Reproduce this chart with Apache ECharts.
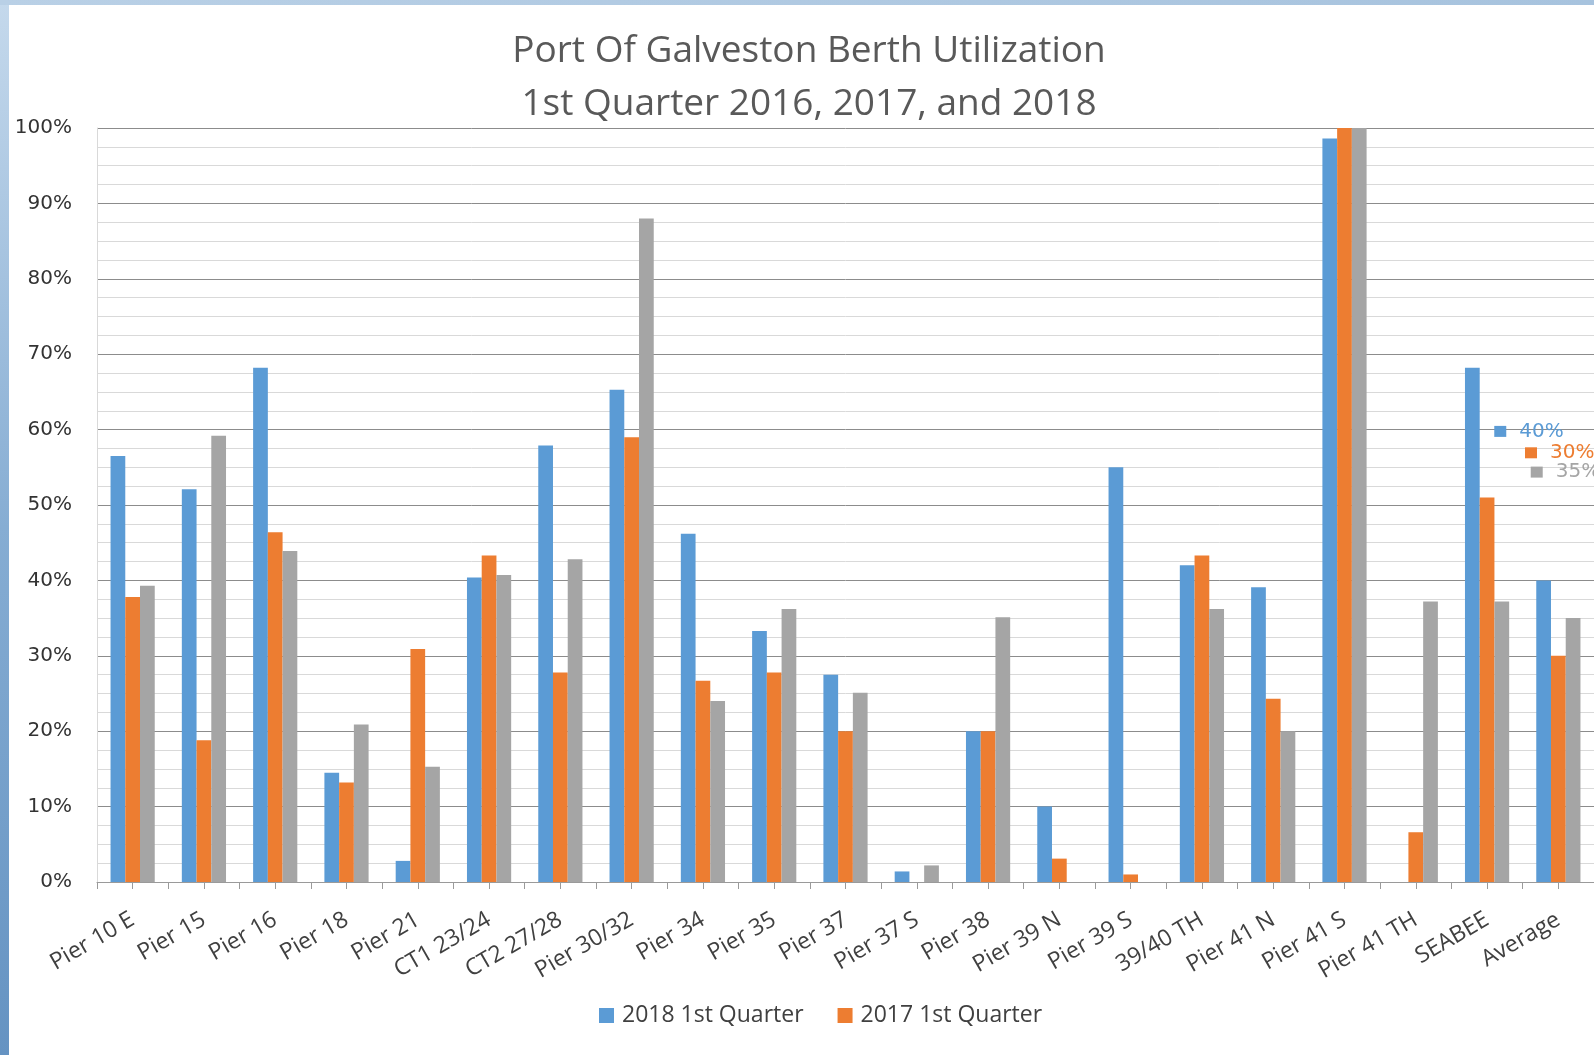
<!DOCTYPE html>
<html>
<head>
<meta charset="utf-8">
<script src="https://cdn.jsdelivr.net/npm/echarts@6/dist/echarts.min.js"></script>
<style>
html,body{margin:0;padding:0;background:#fff;}
#chart{width:1594px;height:1055px;}
</style>
</head>
<body>
<div id="chart"></div>
<script>
const categories = ['Pier 10 E','Pier 15','Pier 16','Pier 18','Pier 21','CT1 23/24','CT2 27/28','Pier 30/32','Pier 34','Pier 35','Pier 37','Pier 37 S','Pier 38','Pier 39 N','Pier 39 S','39/40 TH','Pier 41 N','Pier 41 S','Pier 41 TH','SEABEE','Average'];
const q2018 = [56.5, 52.1, 68.2, 14.5, 2.8, 40.4, 57.9, 65.3, 46.2, 33.3, 27.5, 1.4, 20.0, 10.0, 55.0, 42.0, 39.1, 98.6, 0, 68.2, 40.0];
const q2017 = [37.8, 18.8, 46.4, 13.2, 30.9, 43.3, 27.8, 59.0, 26.7, 27.8, 20.0, 0, 20.0, 3.1, 1.0, 43.3, 24.3, 100, 6.6, 51.0, 30.0];
const q2016 = [39.3, 59.2, 43.9, 20.9, 15.3, 40.7, 42.8, 88.0, 24.0, 36.2, 25.1, 2.2, 35.1, 0, 0, 36.2, 20.0, 100, 37.2, 37.2, 35.0];
const seriesNames = ['2018 1st Quarter', '2017 1st Quarter', '2016 1st Quarter'];
const legendNames = ['2018 1st Quarter', '2017 1st Quarter'];
const yTicks = [0, 10, 20, 30, 40, 50, 60, 70, 80, 90, 100];

const colors = ['#5B9BD5', '#ED7D31', '#A5A5A5'];
const avgLabelPos = [[-42, -149], [-26, -203], [-35, -146]];

function buildData(values, idx) {
  const last = values.length - 1;
  return values.map((v, i) => {
    if (i !== last) return v;
    return {
      value: v,
      label: {
        show: true,
        position: avgLabelPos[idx],
        align: 'left',
        verticalAlign: 'middle',
        formatter: p => '{sq|}{v|' + Math.round(p.value) + '%}',
        rich: {
          sq: { width: 12, height: 11, backgroundColor: colors[idx] },
          v: { fontFamily: 'DejaVu Sans', fontSize: 20, color: colors[idx], padding: [0, 0, 0, 13] }
        }
      }
    };
  });
}

const chart = echarts.init(document.getElementById('chart'));
const option = {
  backgroundColor: '#ffffff',
  animation: false,
  color: colors,
  title: {
    text: 'Port Of Galveston Berth Utilization\n1st Quarter 2016, 2017, and 2018',
    left: 804,
    textAlign: 'center',
    top: 20,
    textStyle: {
      fontFamily: 'Open Sans',
      fontSize: 37,
      fontWeight: 'normal',
      color: '#595959',
      lineHeight: 53
    }
  },
  legend: {
    data: legendNames,
    left: 594,
    top: 999,
    icon: 'rect',
    itemWidth: 15,
    itemHeight: 15,
    itemGap: 34,
    textStyle: {
      fontFamily: 'Open Sans',
      fontSize: 23,
      color: '#404040',
      padding: [0, 0, 0, 3]
    }
  },
  grid: { left: 97, top: 128, width: 1499, height: 754 },
  xAxis: [
    {
      type: 'category',
      data: categories,
      axisLine: { show: true, lineStyle: { color: '#9a9a9a' } },
      axisTick: { show: true, interval: 0, length: 7, alignWithLabel: false, lineStyle: { color: '#9a9a9a' } },
      axisLabel: {
        interval: 0,
        rotate: 30,
        margin: 36,
        fontFamily: 'Open Sans',
        fontSize: 23,
        color: '#404040'
      },
      splitLine: { show: false }
    },
    {
      type: 'category',
      data: categories,
      position: 'bottom',
      axisLine: { show: false },
      axisTick: { show: true, interval: 0, length: 7, alignWithLabel: true, lineStyle: { color: '#9a9a9a' } },
      axisLabel: { show: false },
      splitLine: { show: false }
    }
  ],
  yAxis: {
    type: 'value',
    min: yTicks[0],
    max: yTicks[yTicks.length - 1],
    interval: 10,
    axisLine: { show: true, lineStyle: { color: '#d9d9d9' } },
    axisTick: { show: false },
    axisLabel: {
      formatter: '{value}%',
      margin: 25,
      fontFamily: 'DejaVu Sans',
      fontSize: 20,
      color: '#333333'
    },
    splitLine: { show: true, lineStyle: { color: '#8c8c8c', width: 1 } },
    minorTick: { show: false, splitNumber: 4 },
    minorSplitLine: { show: true, lineStyle: { color: '#d9d9d9', width: 1 } }
  },
  series: [q2018, q2017, q2016].map((vals, idx) => ({
    name: seriesNames[idx],
    type: 'bar',
    xAxisIndex: 0,
    barGap: '0%',
    barCategoryGap: '38%',
    itemStyle: { color: colors[idx] },
    label: { show: false },
    data: buildData(vals, idx)
  })),
  graphic: [
    {
      type: 'rect', left: 0, top: 0, z: 100,
      shape: { width: 9, height: 1055 },
      style: {
        fill: {
          type: 'linear', x: 0, y: 0, x2: 0, y2: 1,
          colorStops: [
            { offset: 0, color: '#c5d9ec' },
            { offset: 0.5, color: '#86add3' },
            { offset: 1, color: '#6593c2' }
          ]
        }
      }
    },
    {
      type: 'rect', left: 0, top: 0, z: 100,
      shape: { width: 1594, height: 5 },
      style: {
        fill: {
          type: 'linear', x: 0, y: 0, x2: 1, y2: 0,
          colorStops: [
            { offset: 0, color: '#b9d0e6' },
            { offset: 1, color: '#a7c3de' }
          ]
        }
      }
    }
  ]
};
chart.setOption(option);
</script>
</body>
</html>
